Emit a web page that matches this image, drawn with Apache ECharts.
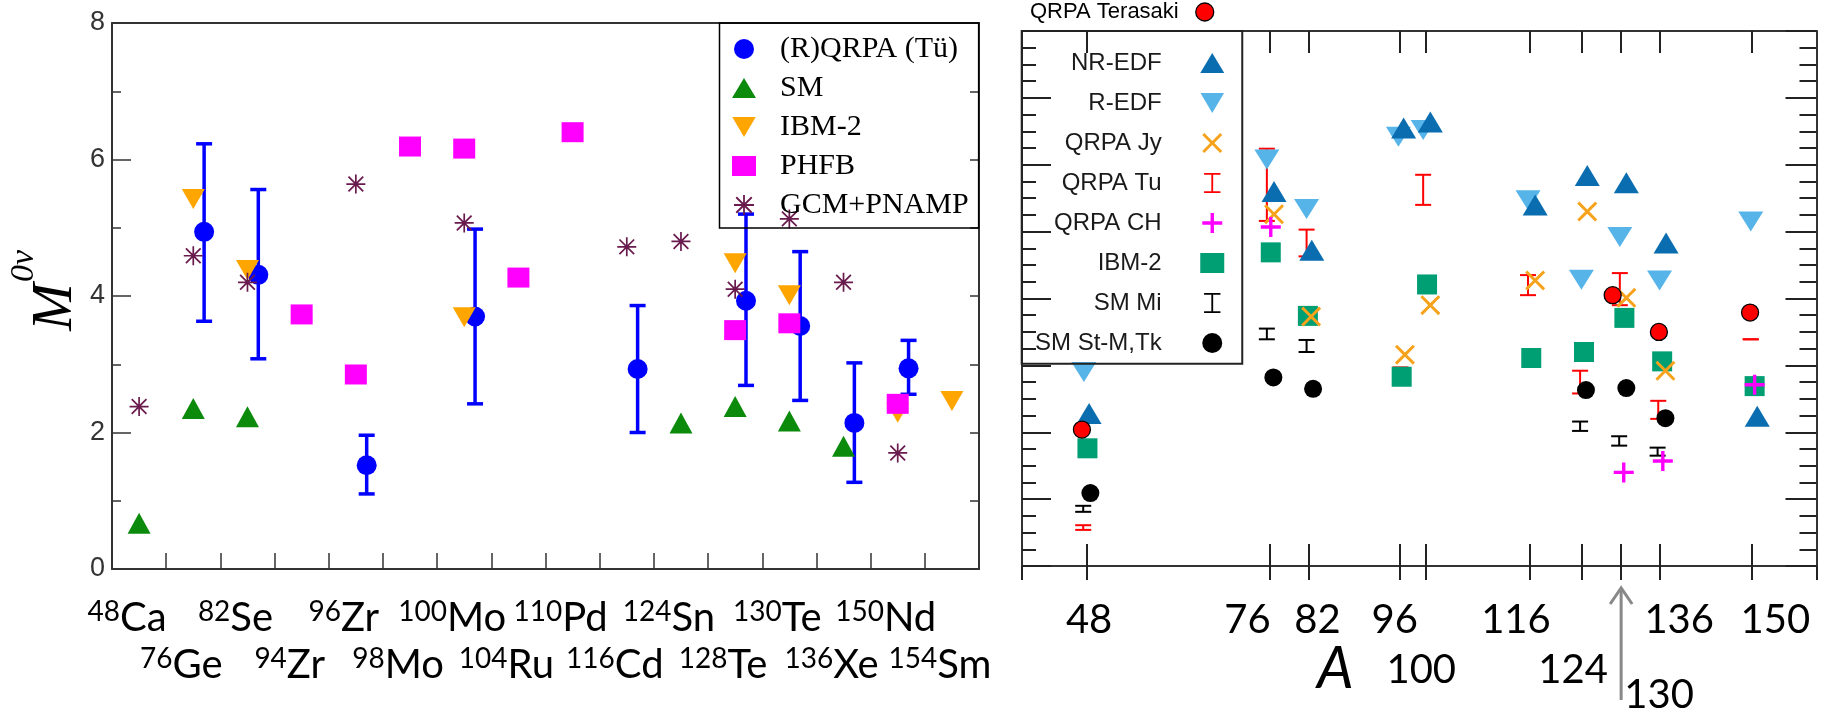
<!DOCTYPE html>
<html><head><meta charset="utf-8">
<script src="https://cdn.jsdelivr.net/npm/echarts@6/dist/echarts.min.js"></script>
<style>html,body{margin:0;padding:0;background:#fff}#c{width:1828px;height:712px}</style>
</head><body><div id="c"></div>
<script>
// ---------- LEFT PANEL DATA (one entry per nucleus) ----------
const leftMass = ['48','76','82','94','96','98','100','104','110','116','124','128','130','136','150','154'];
const leftSym  = ['Ca','Ge','Se','Zr','Zr','Mo','Mo','Ru','Pd','Cd','Sn','Te','Te','Xe','Nd','Sm'];
const qrpaTuVal  = [null,4.94,4.31,null,1.52,null,3.70,null,null,2.93,null,3.93,3.56,2.14,2.94,null];
const qrpaTuLow  = [null,3.63,3.08,null,1.10,null,2.42,null,null,2.00,null,2.69,2.47,1.27,2.56,null];
const qrpaTuHigh = [null,6.23,5.56,null,1.96,null,4.98,null,null,3.86,null,5.20,4.65,3.02,3.35,null];
const smVal   = [0.67,2.35,2.23,null,null,null,null,null,null,null,2.14,2.38,2.17,1.80,null,null];
const ibmVal  = [null,5.42,4.38,null,null,null,3.69,null,null,null,null,4.48,4.01,null,2.29,2.46];
const phfbVal = [null,null,null,3.73,2.85,6.19,6.16,4.27,6.40,null,null,3.50,3.60,null,2.42,null];
const gcmVal  = [2.38,4.59,4.20,null,5.64,null,5.07,null,null,4.72,4.80,4.10,5.13,4.20,1.70,null];

// ---------- RIGHT PANEL DATA (mass number A, M) ----------
const massTicks = [48,76,82,96,100,116,124,130,136,150];
const nrEdfA = [48.3,76.7,82.5,96.6,100.7,116.8,124.8,130.8,136.9,150.9];
const nrEdfM = [2.28,5.60,4.72,6.55,6.64,5.40,5.84,5.73,4.83,2.24];
const rEdfA  = [47.5,75.6,81.7,95.8,99.6,115.7,123.9,129.8,135.9,149.9];
const rEdfM  = [2.90,6.08,5.34,6.42,6.52,5.47,4.28,4.92,4.27,5.15];
const jyA = [76.7,82.4,96.8,100.7,116.8,124.8,130.8,136.8];
const jyM = [5.26,3.73,3.16,3.90,4.27,5.30,4.01,2.92];
const tuA    = [47.4,75.6,81.7,96.1,99.6,115.7,123.7,129.8,135.7,149.9];
const tuLow  = [0.54,5.16,4.63,2.73,5.40,4.05,2.58,3.90,2.20,3.39];
const tuHigh = [0.61,6.24,5.03,2.97,5.85,4.35,2.92,4.38,2.47,3.39];
const chA = [76.2,130.4,136.4,150.5];
const chM = [5.07,1.40,1.57,2.71];
const ibmA = [48.05,76.2,81.9,96.3,100.2,116.2,124.3,130.5,136.3,150.5];
const ibmM = [1.76,4.69,3.74,2.83,4.21,3.11,3.20,3.71,3.06,2.69];
const smMiA    = [47.4,75.6,81.7,123.7,129.7,135.6];
const smMiLow  = [0.81,3.39,3.20,2.02,1.80,1.65];
const smMiHigh = [0.90,3.55,3.38,2.16,1.94,1.77];
const smStA = [48.5,76.6,82.7,124.6,130.8,136.8];
const smStM = [1.09,2.82,2.65,2.63,2.66,2.21];
const terA = [47.2,128.7,135.8,149.8];
const terM = [2.04,4.05,3.50,3.79];

// ---------- helpers ----------
const LATO = 'Lato, "Liberation Sans", sans-serif';
const ARIAL = '"Liberation Sans", Arial, sans-serif';
const SERIF = '"Liberation Serif", "Times New Roman", serif';
function catPts(vals, off) {
  const out = [];
  vals.forEach((v, i) => { if (v !== null) out.push([i + off, v]); });
  return out;
}
function catErr(lo, hi, off) {
  const out = [];
  lo.forEach((v, i) => { if (v !== null) out.push([i + off, v, hi[i]]); });
  return out;
}
function zip2(a, b) { return a.map((x, i) => [x, b[i]]); }
function zip3(a, b, c) { return a.map((x, i) => [x, b[i], c[i]]); }
function errRender(capW, lw, color) {
  return function (params, api) {
    const x = api.value(0);
    const pLo = api.coord([x, api.value(1)]);
    const pHi = api.coord([x, api.value(2)]);
    const st = { stroke: color, lineWidth: lw };
    return { type: 'group', children: [
      { type: 'line', shape: { x1: pHi[0], y1: pHi[1], x2: pLo[0], y2: pLo[1] }, style: st },
      { type: 'line', shape: { x1: pHi[0] - capW / 2, y1: pHi[1], x2: pHi[0] + capW / 2, y2: pHi[1] }, style: st },
      { type: 'line', shape: { x1: pLo[0] - capW / 2, y1: pLo[1], x2: pLo[0] + capW / 2, y2: pLo[1] }, style: st }
    ]};
  };
}
const downTri = 'path://M0,0L20,0L10,17Z';
const starPath = 'path://M0,9.1H20V10.9H0Z M9.1,0H10.9V20H9.1Z M1.6,2.9L2.9,1.6L18.4,17.1L17.1,18.4Z M17.1,1.6L18.4,2.9L2.9,18.4L1.6,17.1Z';
const xPath = 'path://M0,2.1L2.1,0L10,7.9L17.9,0L20,2.1L12.1,10L20,17.9L17.9,20L10,12.1L2.1,20L0,17.9L7.9,10Z';
const plusPath = 'path://M8.3,0H11.7V8.3H20V11.7H11.7V20H8.3V11.7H0V8.3H8.3Z';
const ibeam = 'path://M0,0H18V2H0Z M8,2H10V20H8Z M0,20H18V22H0Z';

// ---------- left x labels (two staggered rows, nudged left of the category centre) ----------
const LEFT_W = 867, nCat = leftSym.length;
const leftNudge = 12 / (LEFT_W / nCat);
const catTicks = Array.from({ length: nCat + 1 }, (_, i) => i);
const evenPos = [], oddPos = [];
for (let i = 0; i < nCat; i++) (i % 2 === 0 ? evenPos : oddPos).push(i + 0.5 - leftNudge);
function leftLabel(v) {
  const i = Math.round(v - 0.5 + leftNudge);
  return '{sup|' + leftMass[i] + '}{el|' + leftSym[i] + '}';
}
const leftRich = {
  sup: { fontFamily: LATO, fontSize: 28, lineHeight: 12, verticalAlign: 'top', color: '#000' },
  el:  { fontFamily: LATO, fontSize: 40, lineHeight: 40, verticalAlign: 'bottom', color: '#000' }
};

// ---------- right x labels: row and horizontal nudge (px) per tick ----------
const RIGHT_W = 794.5, RMIN = 38, RMAX = 160;
const rPx = RIGHT_W / (RMAX - RMIN);
const row2 = [100, 124], row3 = [130];
const rShift = {48:2,76:-22,82:9,96:-5,100:-4.5,116:-14,124:-9,130:38,136:19,150:24};
function rowTicks(r) {
  return massTicks.filter(v => r === 1 ? (row2.indexOf(v) < 0 && row3.indexOf(v) < 0) : (r === 2 ? row2.indexOf(v) >= 0 : row3.indexOf(v) >= 0));
}
function rowPos(r) { return rowTicks(r).map(v => v + (rShift[v] || 0) / rPx); }
function rowFmt(r) {
  const t = rowTicks(r), p = rowPos(r);
  return function (val) {
    let best = 0;
    p.forEach((q, k) => { if (Math.abs(q - val) < Math.abs(p[best] - val)) best = k; });
    return String(t[best]);
  };
}
const rLabelStyle = { fontFamily: LATO, fontSize: 40, lineHeight: 40, color: '#000' };

const axC = '#333';
function rightLabelAxis(r, margin) {
  return { gridIndex: 1, type: 'value', min: RMIN, max: RMAX, position: 'bottom',
    axisLine: { show: false }, axisTick: { show: false }, splitLine: { show: false },
    axisLabel: Object.assign({ customValues: rowPos(r), margin: margin, formatter: rowFmt(r),
      showMinLabel: true, showMaxLabel: true, hideOverlap: false }, rLabelStyle) };
}
const option = {
  animation: false,
  backgroundColor: '#fff',
  grid: [
    { left: 112, top: 23, width: LEFT_W, height: 546, outerBoundsMode: 'none' },
    { left: 1022, top: 31, width: RIGHT_W, height: 535, outerBoundsMode: 'none' }
  ],
  xAxis: [
    { gridIndex: 0, type: 'value', min: 0, max: nCat, position: 'bottom',
      axisLine: { onZero: false, lineStyle: { color: axC, width: 2 } },
      axisTick: { inside: true, length: 16, customValues: catTicks, lineStyle: { color: axC, width: 1.5 } },
      splitLine: { show: false },
      axisLabel: { customValues: evenPos, formatter: leftLabel, rich: leftRich, margin: 29,
        showMinLabel: true, showMaxLabel: true, hideOverlap: false } },
    { gridIndex: 0, type: 'value', min: 0, max: nCat, position: 'bottom',
      axisLine: { show: false }, axisTick: { show: false }, splitLine: { show: false },
      axisLabel: { customValues: oddPos, formatter: leftLabel, rich: leftRich, margin: 76,
        showMinLabel: true, showMaxLabel: true, hideOverlap: false } },
    { gridIndex: 0, type: 'value', min: 0, max: nCat, position: 'top',
      axisLine: { onZero: false, lineStyle: { color: axC, width: 2 } },
      axisTick: { show: false }, axisLabel: { show: false }, splitLine: { show: false } },
    { gridIndex: 1, type: 'value', min: RMIN, max: RMAX, position: 'bottom',
      axisLine: { onZero: false, lineStyle: { color: axC, width: 2 } },
      axisTick: { inside: true, length: 22, customValues: massTicks, lineStyle: { color: '#222', width: 2 } },
      splitLine: { show: false },
      axisLabel: Object.assign({ customValues: rowPos(1), margin: 34, formatter: rowFmt(1),
        showMinLabel: true, showMaxLabel: true, hideOverlap: false }, rLabelStyle),
      name: '{a|A}', nameLocation: 'middle', nameGap: 74, nameMoveOverlap: false,
      nameTextStyle: { rich: { a: { fontFamily: LATO, fontStyle: 'italic', fontSize: 58, lineHeight: 58, color: '#000', padding: [0, 168, 0, 0] } } } },
    { gridIndex: 1, type: 'value', min: RMIN, max: RMAX, position: 'bottom',
      axisLine: { show: false },
      axisTick: { inside: false, length: 14, customValues: [RMIN].concat(massTicks, [RMAX]), lineStyle: { color: '#222', width: 2 } },
      axisLabel: { show: false }, splitLine: { show: false } },
    { gridIndex: 1, type: 'value', min: RMIN, max: RMAX, position: 'top',
      axisLine: { onZero: false, lineStyle: { color: axC, width: 2 } },
      axisTick: { inside: true, length: 22, customValues: massTicks, lineStyle: { color: '#222', width: 2 } },
      axisLabel: { show: false }, splitLine: { show: false } },
    rightLabelAxis(2, 84),
    rightLabelAxis(3, 109)
  ],
  yAxis: [
    { gridIndex: 0, type: 'value', min: 0, max: 8, interval: 2, position: 'left',
      axisLine: { show: true, onZero: false, lineStyle: { color: axC, width: 2 } },
      axisTick: { show: true, inside: true, length: 19, lineStyle: { color: axC, width: 1.5 } },
      minorTick: { show: true, splitNumber: 2, length: 9, lineStyle: { color: axC, width: 1.5 } },
      splitLine: { show: false },
      axisLabel: { fontFamily: ARIAL, fontSize: 27, color: '#333', margin: 7, showMinLabel: true, showMaxLabel: true } },
    { gridIndex: 0, type: 'value', min: 0, max: 8, interval: 1, position: 'right',
      axisLine: { show: true, onZero: false, lineStyle: { color: axC, width: 2 } },
      axisTick: { show: true, inside: true, length: 9, lineStyle: { color: axC, width: 1.5 } },
      axisLabel: { show: false }, splitLine: { show: false } },
    { gridIndex: 1, type: 'value', min: 0, max: 8, interval: 1, position: 'left',
      axisLine: { show: true, onZero: false, lineStyle: { color: axC, width: 2 } },
      axisTick: { show: true, inside: true, length: 29, lineStyle: { color: '#222', width: 2 } },
      minorTick: { show: true, splitNumber: 4, length: 14, lineStyle: { color: '#222', width: 2 } },
      axisLabel: { show: false }, splitLine: { show: false } },
    { gridIndex: 1, type: 'value', min: 0, max: 8, interval: 1, position: 'right',
      axisLine: { show: true, onZero: false, lineStyle: { color: axC, width: 2 } },
      axisTick: { show: true, inside: true, length: 31, lineStyle: { color: '#222', width: 2 } },
      minorTick: { show: true, splitNumber: 4, length: 17, lineStyle: { color: '#222', width: 2 } },
      axisLabel: { show: false }, splitLine: { show: false } }
  ],
  legend: [
    { data: ['(R)QRPA (Tü)', 'SM', 'IBM-2', 'PHFB', 'GCM+PNAMP'], orient: 'vertical', selectedMode: false,
      left: 719.5, top: 23, padding: [11, 10, 8, 12.5], itemWidth: 24, itemHeight: 20, itemGap: 9,
      borderColor: '#000', borderWidth: 1.5, borderRadius: 0, backgroundColor: 'transparent',
      textStyle: { fontFamily: SERIF, fontSize: 30, color: '#000', lineHeight: 20, padding: [0, 0, 0, 19] } },
    { data: ['NR-EDF', 'R-EDF', 'QRPA Jy', 'QRPA Tu', 'QRPA CH', 'IBM-2#r', 'SM Mi', 'SM St-M,Tk'],
      orient: 'vertical', align: 'right', selectedMode: false,
      formatter: n => n.replace(/#.*$/, ''),
      left: 1021.7, top: 31, padding: [20, 18, 8.7, 13.3], itemWidth: 24, itemHeight: 20, itemGap: 16,
      borderColor: '#222', borderWidth: 2, borderRadius: 0, backgroundColor: 'transparent',
      textStyle: { fontFamily: ARIAL, fontSize: 24, color: '#1a1a1a', lineHeight: 20, padding: [0, 33.6, 0, 0] } },
    { data: ['QRPA Terasaki'], orient: 'horizontal', align: 'right', selectedMode: false,
      left: 1030, top: 1, padding: 0, itemWidth: 18, itemHeight: 18,
      itemStyle: { borderWidth: 1.3 },
      textStyle: { fontFamily: ARIAL, fontSize: 22, color: '#000', padding: [0, 12, 0, 0] } }
  ],
  // y-axis title of the left panel, rotated to read bottom-to-top: M with superscript 0ν
  graphic: [
    { type: 'text', x: 56, y: 307, rotation: Math.PI / 2, silent: true,
      style: { text: 'M', fontFamily: SERIF, fontStyle: 'italic', fontSize: 57, fill: '#000',
        align: 'center', verticalAlign: 'middle' } },
    { type: 'text', x: 24, y: 266, rotation: Math.PI / 2, silent: true,
      style: { text: '0ν', fontFamily: SERIF, fontStyle: 'italic', fontSize: 34, fill: '#000',
        align: 'center', verticalAlign: 'middle' } }
  ],
  series: [
    // left panel
    { name: '(R)QRPA err', type: 'custom', xAxisIndex: 0, yAxisIndex: 0,
      renderItem: errRender(16, 3.5, '#0000ff'), encode: { x: 0, y: [1, 2] },
      itemStyle: { color: '#0000ff' }, data: catErr(qrpaTuLow, qrpaTuHigh, 0.7), z: 2 },
    { name: '(R)QRPA (Tü)', type: 'scatter', xAxisIndex: 0, yAxisIndex: 0, symbol: 'circle', symbolSize: 20,
      itemStyle: { color: '#0000ff', opacity: 1 }, data: catPts(qrpaTuVal, 0.7), z: 3 },
    { name: 'SM', type: 'scatter', xAxisIndex: 0, yAxisIndex: 0, symbol: 'triangle', symbolSize: [23, 21],
      itemStyle: { color: '#0b8a0b', opacity: 1 }, data: catPts(smVal, 0.5), z: 3 },
    { name: 'IBM-2', type: 'scatter', xAxisIndex: 0, yAxisIndex: 0, symbol: downTri, symbolSize: [23, 20],
      itemStyle: { color: '#ffa500', opacity: 1 }, data: catPts(ibmVal, 0.5), z: 3 },
    { name: 'PHFB', type: 'scatter', xAxisIndex: 0, yAxisIndex: 0, symbol: 'rect', symbolSize: [22, 20],
      itemStyle: { color: '#ff00ff', opacity: 1 }, data: catPts(phfbVal, 0.5), z: 3 },
    { name: 'GCM+PNAMP', type: 'scatter', xAxisIndex: 0, yAxisIndex: 0, symbol: starPath, symbolSize: 19,
      itemStyle: { color: '#6a1b4d', opacity: 1 }, data: catPts(gcmVal, 0.5), z: 3 },
    // right panel
    { name: 'IBM-2#r', type: 'scatter', xAxisIndex: 3, yAxisIndex: 2, symbol: 'rect', symbolSize: 20,
      itemStyle: { color: '#009E73', opacity: 1 }, data: zip2(ibmA, ibmM), z: 3 },
    { name: 'R-EDF', type: 'scatter', xAxisIndex: 3, yAxisIndex: 2, symbol: downTri, symbolSize: [25, 20],
      itemStyle: { color: '#56B4E9', opacity: 1 }, data: zip2(rEdfA, rEdfM), z: 3 },
    { name: 'NR-EDF', type: 'scatter', xAxisIndex: 3, yAxisIndex: 2, symbol: 'triangle', symbolSize: [25, 21],
      itemStyle: { color: '#0a6db0', opacity: 1 }, data: zip2(nrEdfA, nrEdfM), z: 3 },
    { name: 'SM St-M,Tk', type: 'scatter', xAxisIndex: 3, yAxisIndex: 2, symbol: 'circle', symbolSize: 18,
      itemStyle: { color: '#000', opacity: 1 }, data: zip2(smStA, smStM), z: 3 },
    { name: 'QRPA Jy', type: 'scatter', xAxisIndex: 3, yAxisIndex: 2, symbol: xPath, symbolSize: 20,
      itemStyle: { color: '#f7a21b', opacity: 1 }, data: zip2(jyA, jyM), z: 3 },
    { name: 'QRPA Tu', type: 'custom', xAxisIndex: 3, yAxisIndex: 2,
      renderItem: errRender(16, 2, '#ff0000'), encode: { x: 0, y: [1, 2] },
      itemStyle: { color: '#ff0000' }, data: zip3(tuA, tuLow, tuHigh), z: 3 },
    { name: 'QRPA CH', type: 'scatter', xAxisIndex: 3, yAxisIndex: 2, symbol: plusPath, symbolSize: 20,
      itemStyle: { color: '#ff00ff', opacity: 1 }, data: zip2(chA, chM), z: 3 },
    { name: 'SM Mi', type: 'custom', xAxisIndex: 3, yAxisIndex: 2,
      renderItem: errRender(16, 2, '#000000'), encode: { x: 0, y: [1, 2] },
      itemStyle: { color: '#000000' }, data: zip3(smMiA, smMiLow, smMiHigh), z: 3 },
    { name: 'QRPA Terasaki', type: 'scatter', xAxisIndex: 3, yAxisIndex: 2, symbol: 'circle', symbolSize: 17,
      itemStyle: { color: '#ff0000', borderColor: '#000', borderWidth: 1.3, opacity: 1 }, data: zip2(terA, terM), z: 4 }
  ]
};
option.legend[1].data = option.legend[1].data.map(n => (n === 'QRPA Tu' || n === 'SM Mi') ? { name: n, icon: ibeam } : n);

const chart = echarts.init(document.getElementById('c'), null, { renderer: 'canvas' });
chart.setOption(option);

// annotation arrow at A = 130 below the right panel axis
const ax = chart.convertToPixel({ xAxisIndex: 3 }, 130);
const ay = chart.convertToPixel({ yAxisIndex: 2 }, 0);
chart.setOption({ graphic: option.graphic.concat([
  { type: 'line', shape: { x1: ax, y1: ay + 23, x2: ax, y2: 700 }, style: { stroke: '#888', lineWidth: 3 } },
  { type: 'polyline', shape: { points: [[ax - 11, ay + 38], [ax, ay + 22], [ax + 11, ay + 38]] }, style: { stroke: '#888', lineWidth: 3, fill: null } }
])});
</script></body></html>
